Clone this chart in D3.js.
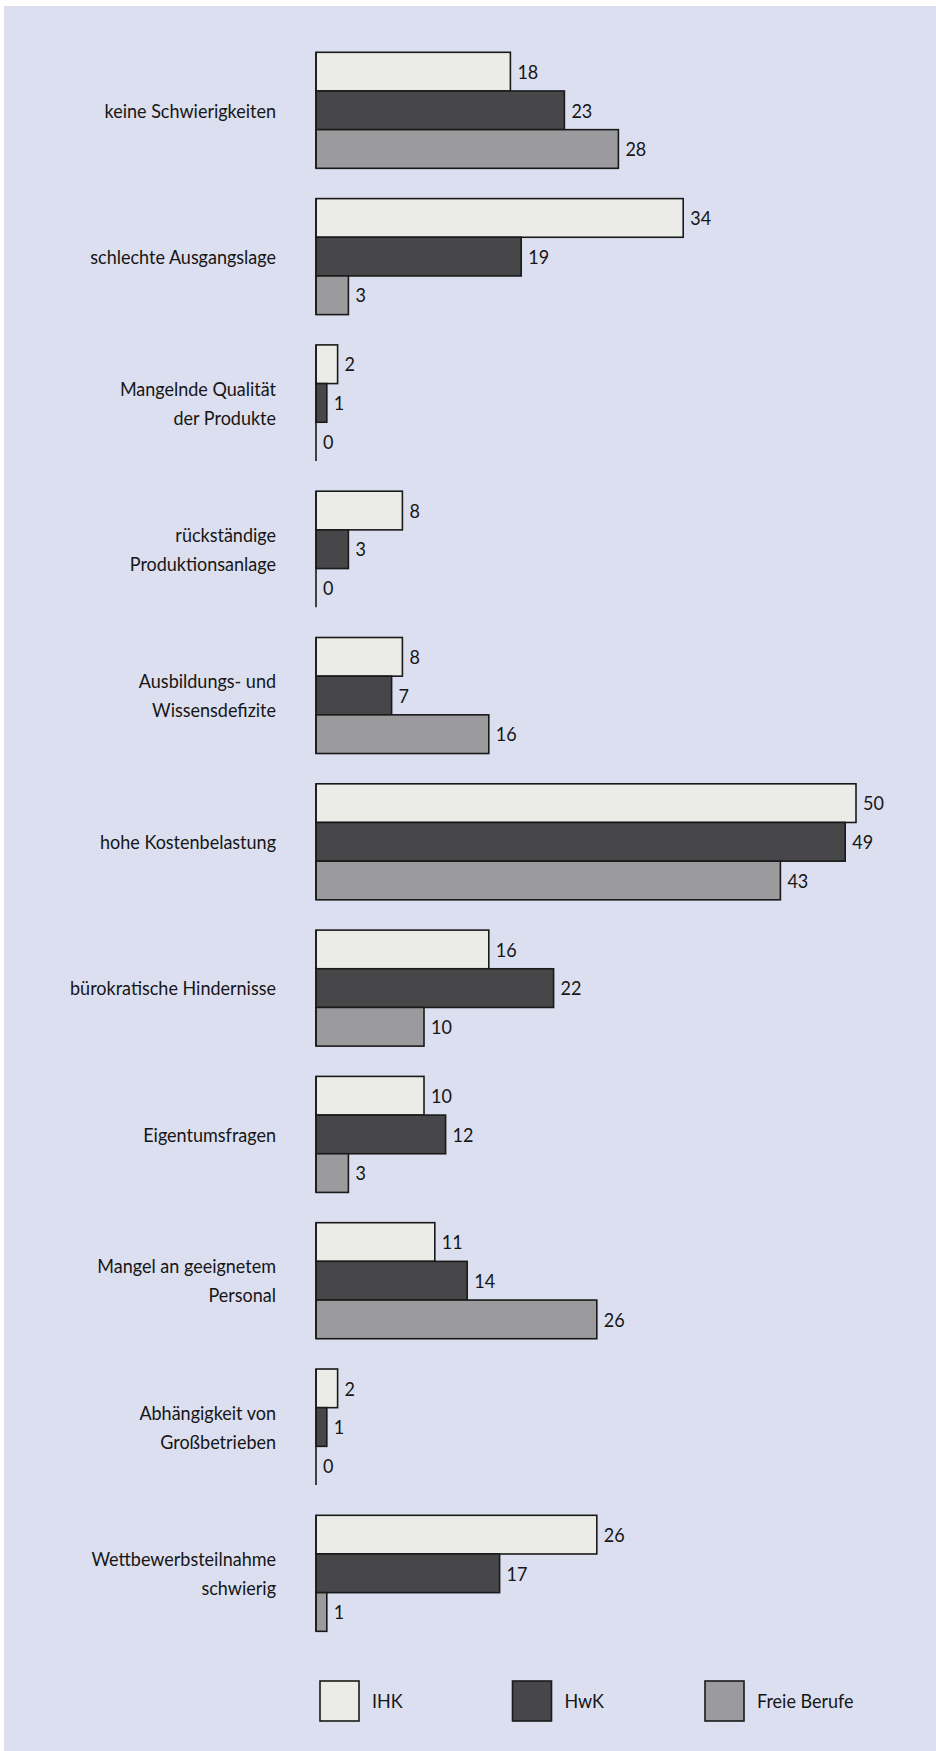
<!DOCTYPE html>
<html>
<head>
<meta charset="utf-8">
<script src="https://cdn.jsdelivr.net/npm/d3@7"></script>
<style>
  html, body { margin: 0; padding: 0; background: #ffffff; }
  svg { display: block; }
  text { font-family: Lato, "Open Sans", sans-serif; fill: #161616; }
</style>
</head>
<body>
<svg id="chart" width="936" height="1751"></svg>
<script>
// ---- data ----
const categories = [
  ["keine Schwierigkeiten"],
  ["schlechte Ausgangslage"],
  ["Mangelnde Qualität", "der Produkte"],
  ["rückständige", "Produktionsanlage"],
  ["Ausbildungs- und", "Wissensdefizite"],
  ["hohe Kostenbelastung"],
  ["bürokratische Hindernisse"],
  ["Eigentumsfragen"],
  ["Mangel an geeignetem", "Personal"],
  ["Abhängigkeit von", "Großbetrieben"],
  ["Wettbewerbsteilnahme", "schwierig"]
];
const series = ["IHK", "HwK", "Freie Berufe"];
const ihk = [18, 34, 2, 8, 8, 50, 16, 10, 11, 2, 26];
const hwk = [23, 19, 1, 3, 7, 49, 22, 12, 14, 1, 17];
const freieBerufe = [28, 3, 0, 0, 16, 43, 10, 3, 26, 0, 1];
const colors = ["#ebebe7", "#47474a", "#9b9b9e"];

// ---- layout ----
const W = 936, H = 1751;
const FS = 20, SX = 0.9;
const svg = d3.select("#chart");

svg.append("rect").attr("x", 0).attr("y", 0).attr("width", W).attr("height", H).attr("fill", "#ffffff");
svg.append("rect").attr("x", 4).attr("y", 6).attr("width", W - 4).attr("height", H - 6).attr("fill", "#dcdfef");

const keys = categories.map((c, i) => i);
const seriesValues = [ihk, hwk, freieBerufe];

const x = d3.scaleLinear().domain([0, 50]).range([316, 856]);
const y = d3.scaleBand().domain(keys).range([37.16, 37.16 + 11 * 146.3])
  .paddingInner(0.207).paddingOuter(0.1035);
const ySub = d3.scaleBand().domain(series).range([0, y.bandwidth()]).padding(0);

const groups = svg.append("g").selectAll("g.grp")
  .data(keys)
  .join("g")
  .attr("class", "grp")
  .attr("transform", d => `translate(0,${y(d)})`);

// category labels
groups.append("text")
  .attr("text-anchor", "end")
  .attr("font-size", FS)
  .attr("transform", `translate(276,${y.bandwidth() / 2}) scale(${SX},1)`)
  .each(function(d) {
    const lines = categories[d];
    const t = d3.select(this);
    const lh = 29;
    lines.forEach((ln, j) => {
      t.append("tspan")
        .attr("x", 0)
        .attr("y", (j - (lines.length - 1) / 2) * lh)
        .attr("dy", "0.36em")
        .text(ln);
    });
  });

// bars
series.forEach((s, si) => {
  groups.append("rect")
    .attr("x", x(0))
    .attr("y", ySub(s))
    .attr("width", d => x(seriesValues[si][d]) - x(0))
    .attr("height", ySub.bandwidth())
    .attr("fill", colors[si])
    .attr("stroke", "#1a1a1a")
    .attr("stroke-width", 1.6);
  groups.append("text")
    .attr("transform", d => `translate(${x(seriesValues[si][d]) + 7},${ySub(s) + ySub.bandwidth() / 2}) scale(${SX},1)`)
    .attr("dy", "0.36em")
    .attr("font-size", FS)
    .text(d => seriesValues[si][d]);
});

// baseline at zero (visible where a value is 0)
groups.append("line")
  .attr("x1", x(0)).attr("x2", x(0))
  .attr("y1", 0).attr("y2", y.bandwidth())
  .attr("stroke", "#1a1a1a")
  .attr("stroke-width", 1.6);

// legend
const legendX = d3.scalePoint().domain(series).range([320, 705]);
const lg = svg.append("g").selectAll("g")
  .data(series)
  .join("g")
  .attr("transform", d => `translate(${legendX(d)},1681)`);
lg.append("rect")
  .attr("width", 39).attr("height", 40)
  .attr("fill", (d, i) => colors[i])
  .attr("stroke", "#1a1a1a").attr("stroke-width", 1.6);
lg.append("text")
  .attr("transform", `translate(52,20) scale(${SX},1)`)
  .attr("dy", "0.36em")
  .attr("font-size", FS)
  .text(d => d);
</script>
</body>
</html>
